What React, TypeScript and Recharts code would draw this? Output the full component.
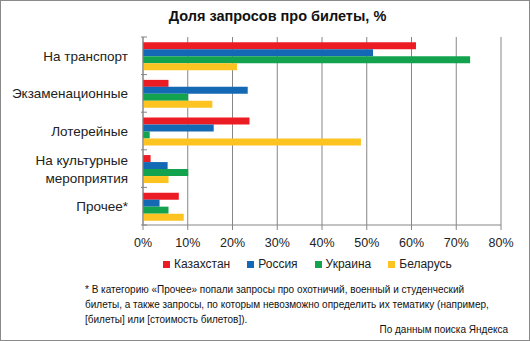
import { BarChart, Bar, XAxis, YAxis, CartesianGrid } from "recharts";

const categories = [
  "На транспорт",
  "Экзаменационные",
  "Лотерейные",
  "На культурные\nмероприятия",
  "Прочее*",
];
const kazakhstan = [61, 5.7, 23.8, 1.7, 8];
const russia = [51.4, 23.4, 15.8, 5.5, 3.7];
const ukraine = [73.1, 10.1, 1.5, 10.1, 5.7];
const belarus = [21, 15.5, 48.7, 5.7, 9.1];
const xTicks = [0, 0.1, 0.2, 0.3, 0.4, 0.5, 0.6, 0.7, 0.8];

const series = [
  { key: "kz", name: "Казахстан", color: "#ec1c24", values: kazakhstan },
  { key: "ru", name: "Россия", color: "#1469b5", values: russia },
  { key: "ua", name: "Украина", color: "#13a34f", values: ukraine },
  { key: "by", name: "Беларусь", color: "#fcc321", values: belarus },
];

const footnote = [
  "* В категорию «Прочее» попали запросы про охотничий, военный и студенческий",
  "билеты, а также запросы, по которым невозможно определить их тематику (например,",
  "[билеты] или [стоимость билетов]).",
];

const data = categories.map((name, i) => {
  const row: Record<string, string | number> = { name };
  series.forEach((s) => {
    row[s.key] = s.values[i] / 100;
  });
  return row;
});

const FONT = "'Liberation Sans', Arial, sans-serif";
const PLOT_H = 188;
const BAND = PLOT_H / categories.length;

function CategoryTick({ x, y, payload }: any) {
  const lines = String(payload.value).split("\n");
  return (
    <g>
      {/* tick marks sit on band boundaries, Excel style */}
      <line x1={x + 6} x2={x + 12} y1={y - BAND / 2} y2={y - BAND / 2} stroke="#868686" />
      {payload.index === categories.length - 1 && (
        <line x1={x + 6} x2={x + 12} y1={y + BAND / 2} y2={y + BAND / 2} stroke="#868686" />
      )}
      <text
        x={x - 7}
        y={y - (lines.length - 1) * 9}
        textAnchor="end"
        dominantBaseline="central"
        fontSize={13.5}
        fill="#222"
        fontFamily={FONT}
      >
        {lines.map((l, i) => (
          <tspan key={i} x={x - 7} dy={i === 0 ? 0 : 18}>
            {l}
          </tspan>
        ))}
      </text>
    </g>
  );
}

export default function App() {
  return (
    <div
      style={{
        position: "absolute",
        left: 0,
        top: 0,
        width: 530,
        height: 341,
        boxSizing: "border-box",
        border: "1px solid #8a8a8a",
        background: "#fff",
        fontFamily: FONT,
        overflow: "hidden",
      }}
    >
      <div
        style={{
          position: "absolute",
          top: 7,
          left: 0,
          width: 553,
          textAlign: "center",
          fontWeight: "bold",
          fontSize: 14.5,
          color: "#111",
        }}
      >
        Доля запросов про билеты, %
      </div>
      <div style={{ position: "absolute", left: -1, top: -1 }}>
        <BarChart
          width={530}
          height={252}
          data={data}
          layout="vertical"
          margin={{ top: 37, right: 29, left: 0, bottom: 0 }}
          barCategoryGap="14%"
          barGap={0}
        >
          <CartesianGrid horizontal={false} stroke="#868686" />
          <XAxis
            type="number"
            domain={[0, 0.8]}
            ticks={xTicks}
            tickFormatter={(v: number) => `${Math.round(v * 100)}%`}
            axisLine={{ stroke: "#868686" }}
            tickLine={{ stroke: "#868686" }}
            tickSize={5}
            height={27}
            tick={{ fontSize: 12.5, fill: "#222", fontFamily: FONT }}
            tickMargin={8}
          />
          <YAxis
            type="category"
            dataKey="name"
            width={143}
            axisLine={{ stroke: "#868686" }}
            tickLine={false}
            tick={<CategoryTick />}
            interval={0}
          />
          {series.map((s) => (
            <Bar
              key={s.key}
              dataKey={s.key}
              name={s.name}
              fill={s.color}
              isAnimationActive={false}
            />
          ))}
        </BarChart>
      </div>
      <div
        style={{
          position: "absolute",
          top: 256,
          left: 162,
          display: "flex",
          fontSize: 12,
          color: "#222",
        }}
      >
        {series.map((s) => (
          <span
            key={s.key}
            style={{ display: "inline-flex", alignItems: "center", marginRight: 17 }}
          >
            <span
              style={{
                width: 7,
                height: 7,
                background: s.color,
                display: "inline-block",
                marginRight: 4,
              }}
            />
            {s.name}
          </span>
        ))}
      </div>
      <div
        style={{
          position: "absolute",
          top: 281,
          left: 84,
          fontSize: 10,
          lineHeight: "15px",
          color: "#111",
          whiteSpace: "nowrap",
        }}
      >
        {footnote.map((l, i) => (
          <div key={i}>{l}</div>
        ))}
      </div>
      <div
        style={{
          position: "absolute",
          top: 323,
          right: 21,
          fontSize: 10,
          color: "#111",
        }}
      >
        По данным поиска Яндекса
      </div>
    </div>
  );
}
